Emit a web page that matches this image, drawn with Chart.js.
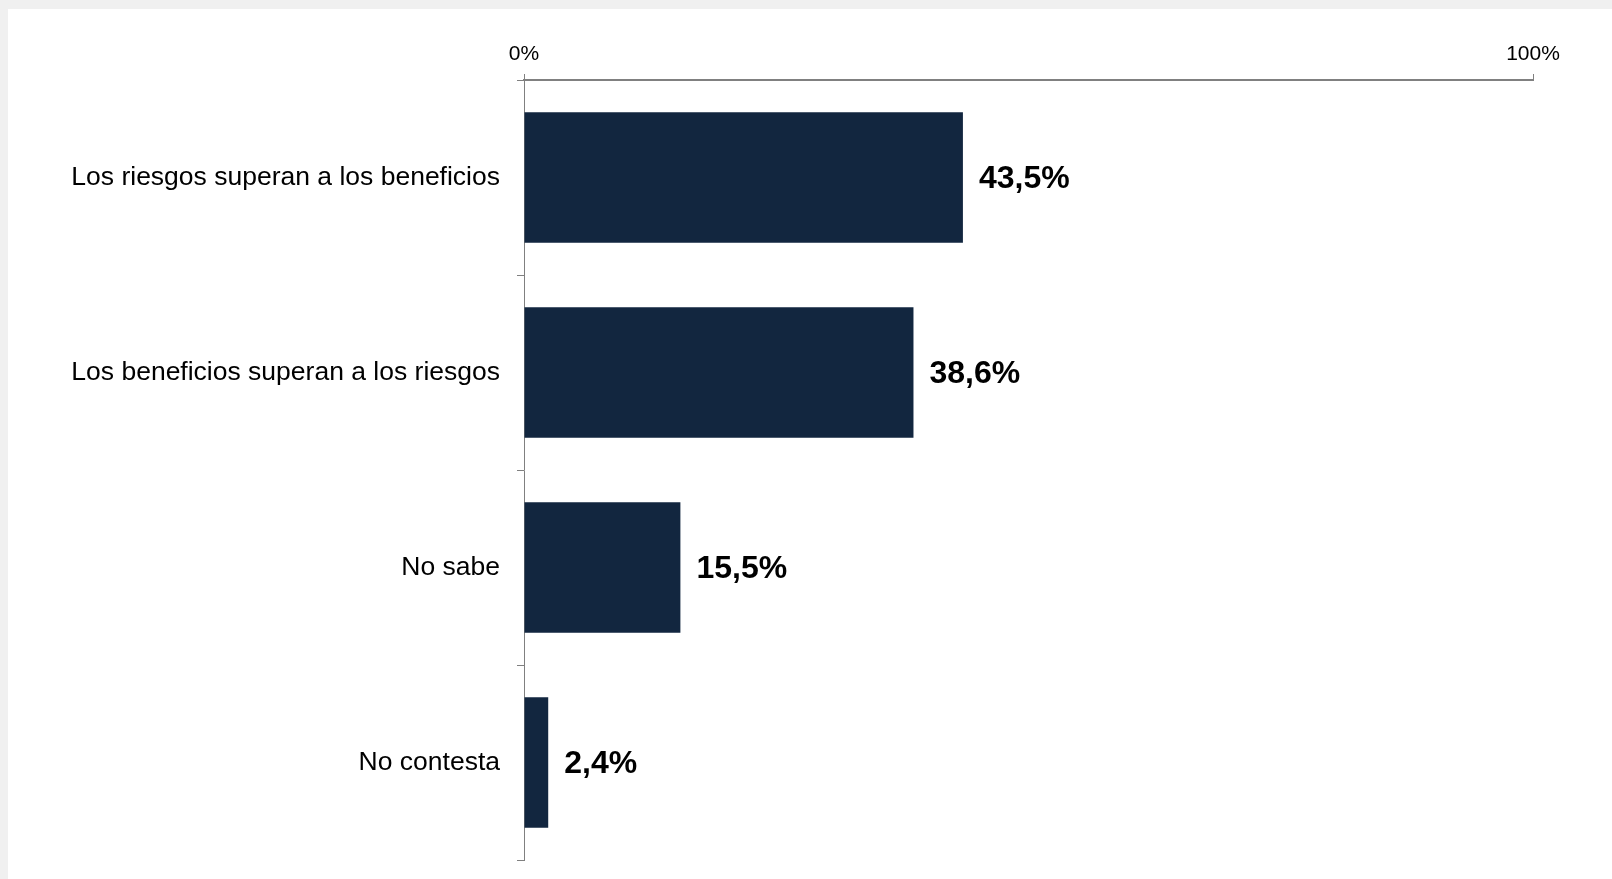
<!DOCTYPE html>
<html>
<head>
<meta charset="utf-8">
<script src="https://cdn.jsdelivr.net/npm/chart.js@4"></script>
<style>
  html, body { margin: 0; padding: 0; background: #f0f0f0; overflow: hidden; }
  #panel { position: absolute; left: 8px; top: 9px; width: 1604px; height: 870px; background: #ffffff; }
  canvas { display: block; }
</style>
</head>
<body>
<div id="panel"><canvas id="barChart" width="1604" height="870"></canvas></div>
<script>
const categories = [
  "Los riesgos superan a los beneficios",
  "Los beneficios superan a los riesgos",
  "No sabe",
  "No contesta"
];
const percentages = [43.5, 38.6, 15.5, 2.4];
const axisTicks = [0, 100];

const barColor = "#12263f";
const axisColor = "#808080";

// labels "43,5%" at the end of each bar
const valueLabels = {
  id: "valueLabels",
  afterDatasetsDraw(chart) {
    const ctx = chart.ctx;
    const meta = chart.getDatasetMeta(0);
    ctx.save();
    ctx.font = "bold 32px 'Liberation Sans', Arial, sans-serif";
    ctx.fillStyle = "#000000";
    ctx.textAlign = "left";
    ctx.textBaseline = "middle";
    meta.data.forEach((bar, i) => {
      const txt = percentages[i].toFixed(1).replace(".", ",") + "%";
      ctx.fillText(txt, bar.x + 16, bar.y + 2);
    });
    ctx.restore();
  }
};

const ctx = document.getElementById("barChart").getContext("2d");
const myChart = new Chart(ctx, {
  type: "bar",
  data: {
    labels: categories,
    datasets: [{
      data: percentages,
      backgroundColor: barColor,
      borderWidth: 0,
      barPercentage: 0.67,
      categoryPercentage: 1
    }]
  },
  options: {
    indexAxis: "y",
    responsive: false,
    maintainAspectRatio: false,
    animation: false,
    layout: { padding: { left: 0, right: 79, top: 0, bottom: 19 } },
    plugins: {
      legend: { display: false },
      tooltip: { enabled: false }
    },
    scales: {
      x: {
        position: "top",
        min: 0,
        max: 100,
        afterBuildTicks(scale) {
          scale.ticks = axisTicks.map(v => ({ value: v }));
        },
        afterFit(scale) {
          scale.height = 71;
          scale.paddingLeft = 0;
          scale.paddingRight = 0;
        },
        grid: { drawOnChartArea: false, drawTicks: true, tickLength: 6, color: axisColor, lineWidth: 1 },
        border: { display: true, color: axisColor, width: 2 },
        ticks: {
          padding: 7,
          maxRotation: 0,
          color: "#000000",
          font: { family: "'Liberation Sans', Arial, sans-serif", size: 21 },
          callback: v => v + "%"
        }
      },
      y: {
        afterFit(scale) {
          scale.width = 516;
          scale.paddingTop = 0;
          scale.paddingBottom = 0;
        },
        grid: { offset: true, drawOnChartArea: false, drawTicks: true, tickLength: 7, color: axisColor, lineWidth: 1 },
        border: { display: true, color: axisColor, width: 1 },
        ticks: {
          padding: 17,
          color: "#000000",
          font: { family: "'Liberation Sans', Arial, sans-serif", size: 26.5 }
        }
      }
    }
  },
  plugins: [valueLabels]
});
</script>
</body>
</html>
